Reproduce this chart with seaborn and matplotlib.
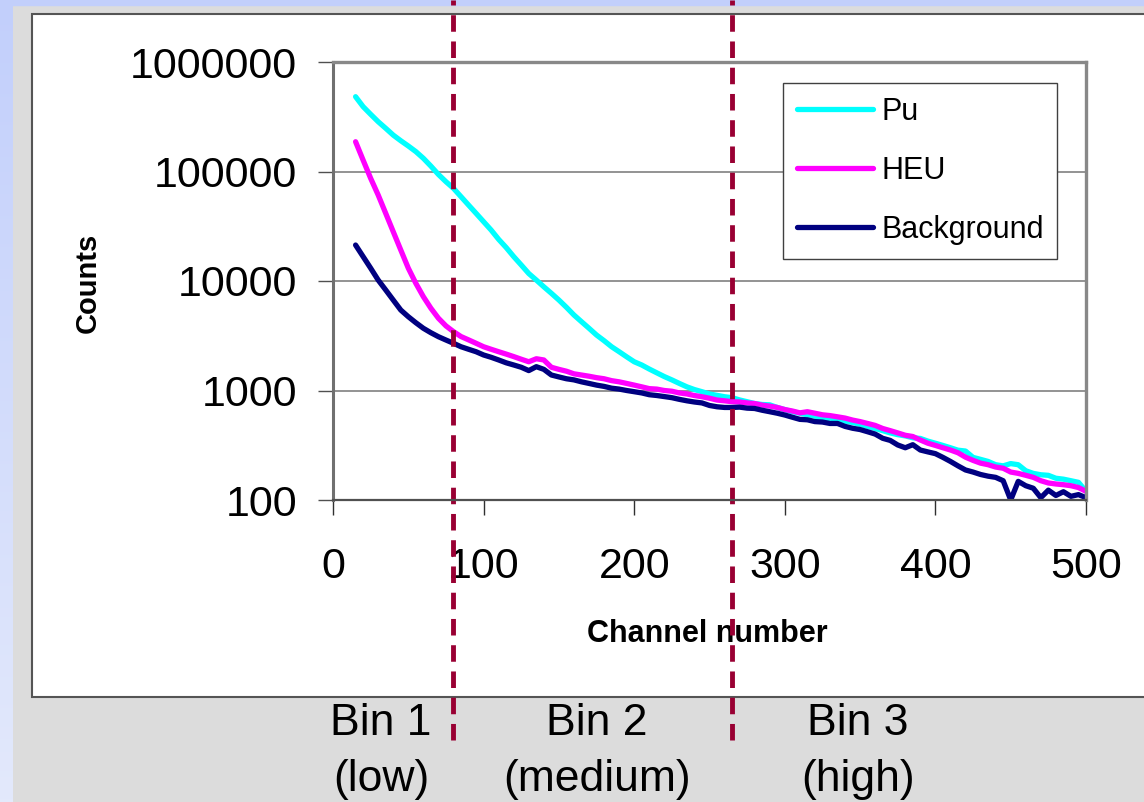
import numpy as np
import pandas as pd
import matplotlib
matplotlib.use('Agg')
import matplotlib.pyplot as plt
from matplotlib.patches import Rectangle
from matplotlib.colors import LinearSegmentedColormap
import seaborn as sns

# ---- data ----
channel = list(range(15, 501, 5))

pu_counts = [
    482000, 391000, 333000, 285000, 248000, 215000, 191000, 171000, 152000, 132000,
    112000, 94000, 80700, 70200, 58900, 49400, 41500, 34800, 29200, 24000,
    20200, 16700, 14000, 11700, 10200, 8850, 7720, 6700, 5750, 4890,
    4250, 3700, 3210, 2850, 2510, 2260, 2030, 1830, 1710, 1570,
    1450, 1340, 1250, 1160, 1080, 1020, 975, 930, 903, 877,
    860, 820, 790, 760, 745, 740, 700, 670, 640, 620,
    600, 585, 540, 560, 545, 525, 510, 490, 470, 450,
    430, 410, 395, 385, 370, 365, 345, 330, 315, 300,
    285, 280, 245, 235, 225, 210, 205, 215, 210, 185,
    175, 170, 168, 158, 155, 150, 145, 120,
]
heu_counts = [
    187000, 127000, 86700, 61000, 41500, 28200, 19200, 13100, 9530, 7190,
    5640, 4570, 3890, 3450, 3110, 2900, 2700, 2510, 2380, 2260,
    2150, 2040, 1930, 1830, 1950, 1900, 1630, 1560, 1500, 1420,
    1385, 1350, 1310, 1280, 1230, 1200, 1160, 1120, 1080, 1040,
    1030, 1000, 985, 950, 930, 900, 877, 850, 818, 805,
    790, 785, 770, 760, 735, 720, 700, 670, 650, 625,
    640, 620, 600, 590, 575, 560, 537, 520, 500, 480,
    450, 430, 410, 390, 380, 353, 330, 315, 300, 286,
    270, 246, 230, 217, 210, 200, 195, 180, 175, 168,
    161, 150, 143, 140, 138, 135, 130, 120,
]
background_counts = [
    21300, 16700, 13100, 10200, 8280, 6700, 5430, 4720, 4160, 3700,
    3370, 3100, 2890, 2700, 2510, 2380, 2260, 2110, 2010, 1900,
    1790, 1710, 1630, 1520, 1650, 1560, 1385, 1330, 1280, 1250,
    1200, 1160, 1120, 1090, 1050, 1030, 1000, 975, 950, 915,
    900, 880, 860, 830, 805, 785, 770, 730, 710, 700,
    700, 705, 690, 685, 660, 640, 620, 597, 570, 545,
    540, 520, 515, 500, 500, 470, 452, 440, 420, 400,
    366, 350, 318, 300, 320, 286, 275, 265, 245, 225,
    205, 188, 180, 171, 165, 161, 150, 100, 148, 135,
    128, 105, 123, 110, 119, 108, 112, 105,
]

series_names = ['Pu', 'HEU', 'Background']
series_colors = {'Pu': '#00ffff', 'HEU': '#ff00ff', 'Background': '#000080'}
y_ticks = [100, 1000, 10000, 100000, 1000000]
x_ticks = [0, 100, 200, 300, 400, 500]
bin_edges = [80, 265]
bin_titles = ['Bin 1', 'Bin 2', 'Bin 3']
bin_subtitles = ['(low)', '(medium)', '(high)']

df = pd.DataFrame({'Channel': channel, 'Pu': pu_counts, 'HEU': heu_counts,
                   'Background': background_counts})
df = df.melt(id_vars='Channel', var_name='Series', value_name='Counts')

# ---- style ----
sns.set_theme(style='white')
plt.rcParams['font.family'] = ['Liberation Sans', 'DejaVu Sans']
plt.rcParams['text.color'] = 'black'
plt.rcParams['axes.labelcolor'] = 'black'
plt.rcParams['xtick.labelcolor'] = 'black'
plt.rcParams['ytick.labelcolor'] = 'black'

W, H = 1144, 802
fig = plt.figure(figsize=(W / 100, H / 100), dpi=100, facecolor='#dcdcdc')

# slide background bits
strip = fig.add_axes([0, 0, 13 / W, 1])
strip.imshow(np.linspace(0, 1, 256).reshape(-1, 1),
             cmap=LinearSegmentedColormap.from_list('s', ['#c2cffb', '#e3e9fb']),
             aspect='auto')
strip.axis('off')
fig.add_artist(Rectangle((0, 1 - 5 / H), 1, 5 / H, transform=fig.transFigure,
                         color='#c2cffb', zorder=-2))
fig.add_artist(Rectangle((32 / W, 1 - 697 / H), 1.2, (697 - 14) / H,
                         transform=fig.transFigure, facecolor='white',
                         edgecolor='#555555', lw=1.5, zorder=-1))

ax = fig.add_axes([333 / W, 1 - 500 / H, (1086 - 333) / W, (500 - 62) / H])
ax.set_facecolor('white')

sns.lineplot(data=df, x='Channel', y='Counts', hue='Series',
             hue_order=series_names, palette=series_colors,
             estimator=None, sort=False, linewidth=3.8, legend=False, ax=ax)
for ln in ax.lines[:3]:
    ln.set_solid_capstyle('round')
    ln.set_solid_joinstyle('round')

ax.set_yscale('log')
ax.set_ylim(100, 1000000)
ax.set_xlim(0, 500)
ax.set_yticks(y_ticks)
ax.set_yticklabels([str(v) for v in y_ticks])
ax.yaxis.set_minor_locator(matplotlib.ticker.NullLocator())
ax.set_xticks(x_ticks)
ax.set_xticklabels([str(v) for v in x_ticks])

ax.grid(axis='y', color='#808080', lw=1.2)
ax.grid(axis='x', visible=False)
ax.tick_params(axis='y', which='major', direction='out', length=11, width=1,
               color='#505050', pad=15, labelsize=31, left=True)
ax.tick_params(axis='x', which='major', direction='out', length=11, width=1,
               color='#303030', pad=23, labelsize=31, bottom=True)

for side in ['top', 'right']:
    ax.spines[side].set_color('#888888')
    ax.spines[side].set_linewidth(2.4)
ax.spines['left'].set_color('#707070')
ax.spines['left'].set_linewidth(2.2)
ax.spines['bottom'].set_color('#505050')
ax.spines['bottom'].set_linewidth(1.6)

ax.set_xlabel('Channel number', fontsize=22, fontweight='bold')
ax.xaxis.set_label_coords(0.497, -0.272)
ax.set_ylabel('Counts', fontsize=21, fontweight='bold')
ax.yaxis.set_label_coords(-0.307, 0.495)

ax.legend(handles=ax.lines[:3], labels=series_names, loc='upper left',
          bbox_to_anchor=(0.598, 0.952), borderaxespad=0, fontsize=22,
          frameon=True, fancybox=False, edgecolor='#404040', framealpha=1,
          handlelength=2.5, handletextpad=0.25, labelspacing=0.95,
          borderpad=0.45)

# bin boundaries, running past the axes
for edge in bin_edges:
    ax.axvline(edge, ymin=(500 - 740) / 438, ymax=500 / 438, clip_on=False,
               color='#990033', lw=3.5, linestyle=(0, (3.4, 2.0)))

bin_centres = [381, 597, 858]
for cx, t1, t2 in zip(bin_centres, bin_titles, bin_subtitles):
    fig.text(cx / W, 1 - 735 / H, t1, ha='center', va='baseline', fontsize=32)
    fig.text(cx / W, 1 - 791 / H, t2, ha='center', va='baseline', fontsize=32)

fig.savefig('out.png', dpi=100, facecolor=fig.get_facecolor())
